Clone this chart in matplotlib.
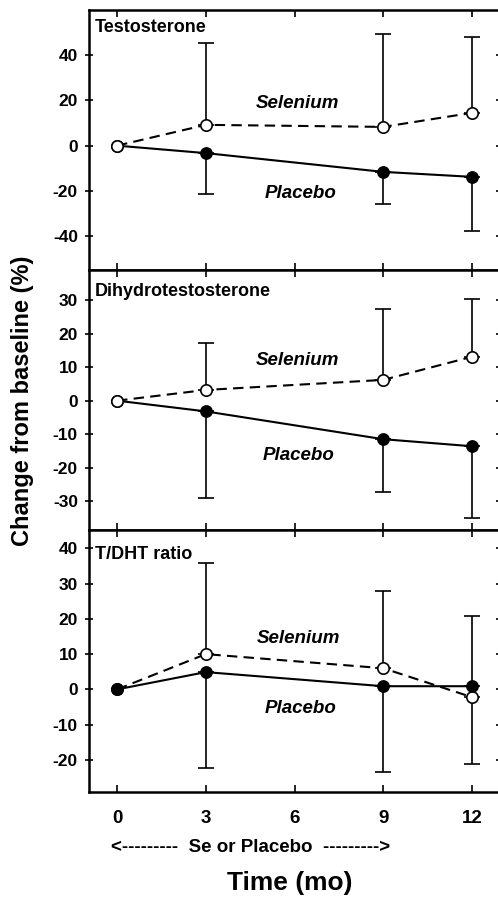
import numpy as np
import matplotlib
matplotlib.use("Agg")
from matplotlib import pyplot as plt

plt.rcParams['font.family'] = ['Liberation Sans', 'DejaVu Sans']
plt.rcParams['font.weight'] = 'bold'
plt.rcParams['axes.unicode_minus'] = False

months = np.array([0, 3, 9, 12])

# Testosterone
t_sel = [0, 9.2, 8.3, 14.5]
t_sel_top = [0, 45.6, 49.6, 48.1]
t_pla = [0, -3.3, -11.6, -13.8]
t_pla_bot = [0, -21.2, -25.8, -37.9]

# Dihydrotestosterone
d_sel = [0, 3.2, 6.2, 13.1]
d_sel_top = [0, 17.2, 27.3, 30.3]
d_pla = [0, -3.2, -11.5, -13.6]
d_pla_bot = [0, -29.0, -27.4, -34.9]

# T/DHT ratio
r_sel = [0, 10.0, 6.0, -2.2]
r_sel_top = [0, 35.8, 27.9, 20.9]
r_pla = [0, 4.9, 0.9, 0.9]
r_pla_bot = [0, -22.2, -23.3, -21.2]

panels = [
    dict(title='Testosterone', sel=t_sel, sel_top=t_sel_top, pla=t_pla, pla_bot=t_pla_bot,
         ylim=(-55, 60), yticks=[-40, -20, 0, 20, 40], title_y=0.933,
         sel_lab=(6.1, 18.7), pla_lab=(6.2, -21.3), sel_on_top=True),
    dict(title='Dihydrotestosterone', sel=d_sel, sel_top=d_sel_top, pla=d_pla, pla_bot=d_pla_bot,
         ylim=(-38.6, 39), yticks=[-30, -20, -10, 0, 10, 20, 30], title_y=0.917,
         sel_lab=(6.1, 11.9), pla_lab=(6.15, -16.4), sel_on_top=True),
    dict(title='T/DHT ratio', sel=r_sel, sel_top=r_sel_top, pla=r_pla, pla_bot=r_pla_bot,
         ylim=(-29.1, 45.2), yticks=[-20, -10, 0, 10, 20, 30, 40], title_y=0.905,
         sel_lab=(6.15, 14.5), pla_lab=(6.2, -5.4), sel_on_top=False),
]

W, H = 498, 899
fig = plt.figure(figsize=(W / 100, H / 100), dpi=100)

left = 89 / W
width = (500 - 89) / W
bounds = [(10, 270), (270, 530), (530, 792)]

for p, (top, bot) in zip(panels, bounds):
    ax = fig.add_axes([left, 1 - bot / H, width, (bot - top) / H])
    x = months
    sel = np.array(p['sel'])
    pla = np.array(p['pla'])
    up = np.array(p['sel_top']) - sel
    dn = pla - np.array(p['pla_bot'])

    zs, zp = (4, 3) if p['sel_on_top'] else (3, 4)

    ax.errorbar(x[1:], sel[1:], yerr=[np.zeros(3), up[1:]], fmt='none',
                ecolor='black', elinewidth=1.2, capsize=5.5, capthick=1.2, zorder=2)
    ax.errorbar(x[1:], pla[1:], yerr=[dn[1:], np.zeros(3)], fmt='none',
                ecolor='black', elinewidth=1.2, capsize=5.5, capthick=1.2, zorder=2)

    ax.plot(x, sel, color='black', lw=1.5, ls=(0, (5, 3)), marker='o', ms=8.2,
            mfc='white', mec='black', mew=1.2, zorder=zs)
    ax.plot(x, pla, color='black', lw=1.5, ls='-', marker='o', ms=8.2,
            mfc='black', mec='black', zorder=zp)

    ax.text(p['sel_lab'][0], p['sel_lab'][1], 'Selenium', ha='center', va='center',
            fontsize=13.5, fontweight='bold', fontstyle='italic')
    ax.text(p['pla_lab'][0], p['pla_lab'][1], 'Placebo', ha='center', va='center',
            fontsize=13.5, fontweight='bold', fontstyle='italic')
    ax.text(0.015, p['title_y'], p['title'], transform=ax.transAxes, ha='left', va='center',
            fontsize=13, fontweight='bold')

    ax.set_xlim(-0.95, 12.95)
    ax.set_ylim(*p['ylim'])
    ax.set_yticks(p['yticks'])
    ax.set_xticks([0, 3, 6, 9, 12])
    ax.tick_params(axis='x', direction='in', top=True, bottom=True, length=5, width=1.2)
    ax.tick_params(axis='y', labelsize=12.5, pad=5, width=1.2)
    ax.tick_params(axis='y', right=True, direction='in', length=4)
    ax.tick_params(axis='y', left=True, direction='inout', length=6)
    for lab in ax.get_yticklabels():
        lab.set_fontweight('bold')
    for s in ax.spines.values():
        s.set_linewidth(1.8)
    if bot != 792:
        ax.set_xticklabels([])
    else:
        ax.tick_params(axis='x', labelsize=13.5, pad=13)
        for lab in ax.get_xticklabels():
            lab.set_fontweight('bold')

fig.text(23 / W, 1 - 401 / H, 'Change from baseline (%)', rotation=90, ha='center', va='center',
         fontsize=17, fontweight='bold')
fig.text(251 / W, 1 - 847 / H, '<---------  Se or Placebo  --------->', ha='center', va='center',
         fontsize=13.5, fontweight='bold')
fig.text(290 / W, 1 - 883 / H, 'Time (mo)', ha='center', va='center',
         fontsize=19, fontweight='bold')

fig.savefig('out.png', dpi=100)
